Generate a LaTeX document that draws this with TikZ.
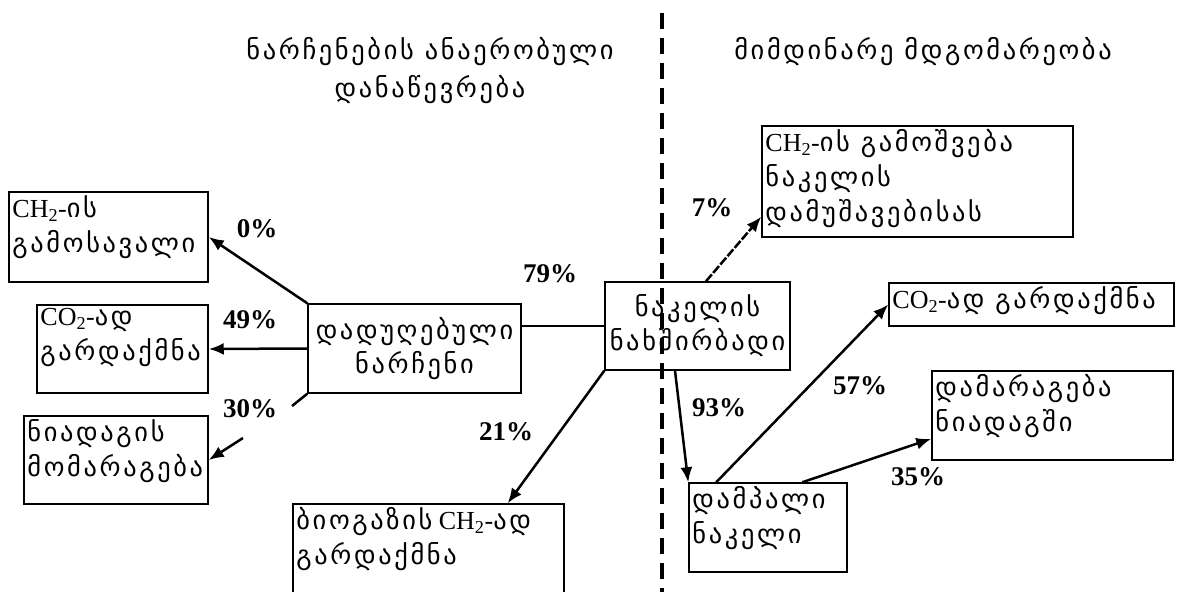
\documentclass[tikz,border=0pt]{standalone}
\usepackage{fontspec}
\setmainfont{Liberation Serif}
\newfontfamily\geo{DejaVu Sans}[Scale=1.015,LetterSpace=10]
\usetikzlibrary{arrows.meta}

\tikzset{
  box/.style={draw, line width=1.5pt, inner sep=0pt},
  boxtext/.style={anchor=north west, align=left, inner sep=4pt, font=\fontsize{26}{35}\selectfont},
  midtext/.style={align=center, inner sep=0pt, font=\fontsize{26}{34}\selectfont},
  title/.style={align=center, inner sep=0pt, font=\fontsize{26}{38}\selectfont},
  pct/.style={inner sep=0pt, font=\fontsize{27}{27}\selectfont\bfseries},
  flow/.style={line width=2.5pt, -{Latex[length=15pt,width=12pt]}},
}

\begin{document}
\begin{tikzpicture}[x=1pt,y=-1pt]
  \useasboundingbox (0,0) rectangle (1179,592);
  \clip (0,0) rectangle (1179,592);
  % divider
  \draw[line width=4pt, dash pattern=on 16pt off 9pt] (662,13) -- (662,592);
  % titles
  \node[title] (ttlL) at (430,71) {\geo ნარჩენების ანაერობული\\\geo დანაწევრება};
  \node[title] (ttlR) at (923,52) {\geo მიმდინარე მდგომარეობა};
  % left side
  \node[box, minimum width=199pt, minimum height=90pt] (ch4out) at (108.5,237) {};
  \node[boxtext] at (ch4out.north west) {CH\textsubscript{2}-{\geo ის}\\{\geo გამოსავალი}};
  \node[box, minimum width=171pt, minimum height=88pt] (co2l) at (122.5,349) {};
  \node[boxtext] at (co2l.north west) {CO\textsubscript{2}-{\geo ად}\\{\geo გარდაქმნა}};
  \node[box, minimum width=184pt, minimum height=88pt] (soil) at (116,460) {};
  \node[boxtext] at (soil.north west) {\geo ნიადაგის\\\geo მომარაგება};
  \node[box, minimum width=213pt, minimum height=89pt] (waste) at (414.5,348.5) {};
  \node[midtext] at (waste.center) {\geo დადუღებული\\\geo ნარჩენი};
  \node[box, minimum width=271pt, minimum height=116pt] (bio) at (428.5,562) {};
  \node[boxtext] at (bio.north west) {{\geo ბიოგაზის} CH\textsubscript{2}-{\geo ად}\\{\geo გარდაქმნა}};
  % centre
  \node[box, minimum width=185pt, minimum height=88pt] (manC) at (697.5,326) {};
  \node[midtext] at (manC.center) {\geo ნაკელის\\\geo ნახშირბადი};
  % right side
  \node[box, minimum width=311pt, minimum height=111pt] (ch4man) at (917.5,181.5) {};
  \node[boxtext] at (ch4man.north west) {CH\textsubscript{2}-{\geo ის გამოშვება}\\{\geo ნაკელის}\\{\geo დამუშავებისას}};
  \node[box, minimum width=285pt, minimum height=43pt] (co2r) at (1031.5,304.5) {};
  \node[boxtext] at (co2r.north west) {CO\textsubscript{2}-{\geo ად გარდაქმნა}};
  \node[box, minimum width=241pt, minimum height=89pt] (store) at (1052.5,415.5) {};
  \node[boxtext] at (store.north west) {\geo დამარაგება\\\geo ნიადაგში};
  \node[box, minimum width=158pt, minimum height=89pt] (rot) at (768,527.5) {};
  \node[boxtext] at (rot.north west) {\geo დამპალი\\\geo ნაკელი};

  % connectors
  \draw[flow] (waste.north west) -- (ch4out.east);
  \draw[flow] (waste.west) -- (co2l.east);
  \coordinate (gapA) at (292,406);
  \coordinate (gapB) at (243,438);
  \draw[line width=2.5pt] (waste.south west) -- (gapA);
  \draw[flow] (gapB) -- (soil.east);
  \draw[line width=1.5pt] (manC.west) -- (manC.west -| waste.east);
  \draw[flow] (manC.south west) -- ([xshift=-57pt]bio.north east);
  \draw[flow, dash pattern=on 9pt off 2pt] ([xshift=8.5pt]manC.north) -- ([yshift=21pt]ch4man.south west);
  \draw[flow] ([xshift=-22.5pt]manC.south) -- (rot.north west);
  \draw[flow] ([xshift=28pt]rot.north west) -- (co2r.west);
  \draw[flow] ([xshift=114pt]rot.north west) -- ([yshift=22pt]store.south west);

  % percentages
  \node[pct] (p0) at (257,229) {0\%};
  \node[pct] (p49) at (250,320) {49\%};
  \node[pct] (p30) at (250,409) {30\%};
  \node[pct] (p79) at (550,274) {79\%};
  \node[pct] (p21) at (506,432) {21\%};
  \node[pct] (p7) at (712,208) {7\%};
  \node[pct] (p93) at (719,408) {93\%};
  \node[pct] (p57) at (860,386) {57\%};
  \node[pct] (p35) at (918,477) {35\%};
\end{tikzpicture}
\end{document}
